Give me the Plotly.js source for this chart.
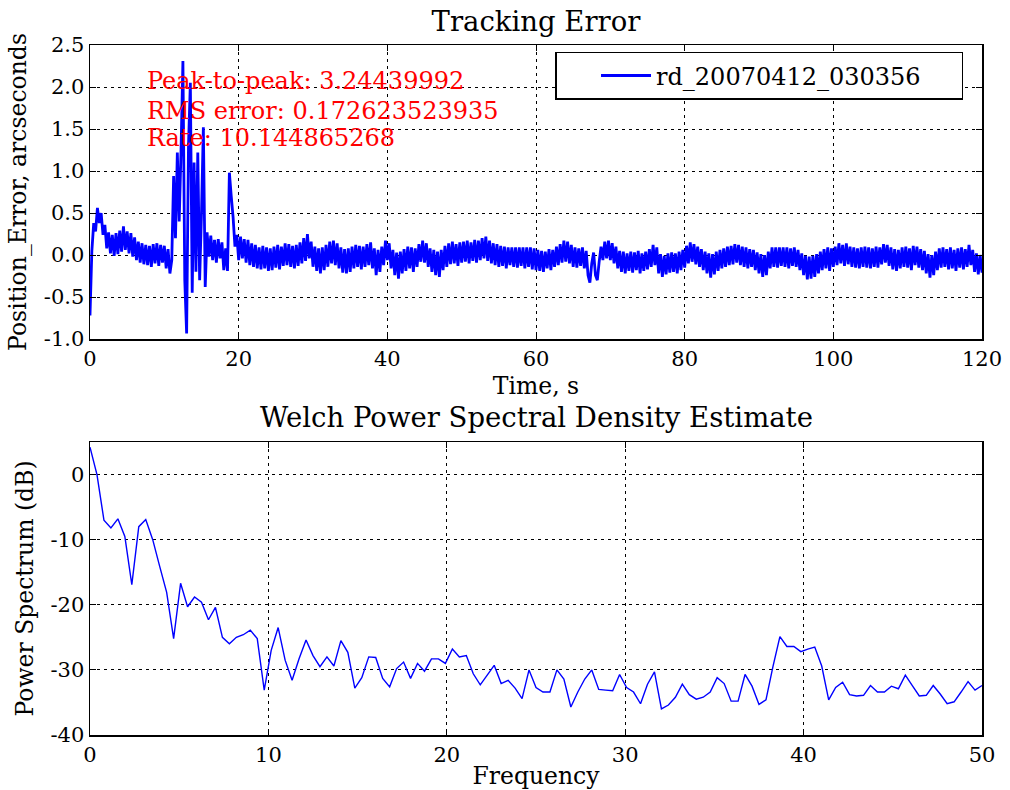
<!DOCTYPE html>
<html>
<head>
<meta charset="utf-8">
<script src="https://cdn.plot.ly/plotly-3.0.1.min.js"></script>
<style>
  html, body { margin: 0; padding: 0; background: #fff; }
  #chart { width: 1010px; height: 790px; }
</style>
</head>
<body>
<div id="chart"></div>
<script>
// Tracking error record, one sample every 0.25 s (arcseconds)
const sampleStep = 0.25;
const positionError = [
  -0.72, 0.05, 0.38, 0.28, 0.56, 0.38, 0.50, 0.24, 0.36, 0.08, 0.27, 0.02, 0.24, -0.01, 0.26, 0.01, 0.29, 0.04, 0.34, 0.06,
  0.28, 0.02, 0.26, -0.02, 0.21, -0.06, 0.16, -0.09, 0.14, -0.11, 0.12, -0.12, 0.11, -0.14, 0.13, -0.10, 0.14, -0.13, 0.12, -0.09,
  0.11, -0.16, 0.07, -0.22, -0.06, 0.94, 0.20, 1.22, 0.40, 1.26, 2.31, -0.30, -0.9344, 1.30, 2.05, -0.45, 1.10, -0.20, 1.22, -0.30,
  0.50, 1.52, -0.38, 0.27, -0.02, 0.23, -0.06, 0.18, -0.09, 0.19, -0.04, 0.15, -0.18, 0.08, -0.19, 0.98, 0.70, 0.45, 0.10, 0.24,
  -0.06, 0.22, -0.04, 0.19, -0.09, 0.18, -0.12, 0.14, -0.14, 0.12, -0.16, 0.09, -0.17, 0.11, -0.16, 0.09, -0.19, 0.08, -0.18, 0.10,
  -0.15, 0.12, -0.17, 0.10, -0.13, 0.14, -0.12, 0.13, -0.14, 0.11, -0.16, 0.12, -0.13, 0.15, -0.10, 0.20, -0.07, 0.25, -0.04, 0.16,
  -0.14, 0.10, -0.19, 0.08, -0.22, 0.09, -0.18, 0.12, -0.14, 0.16, -0.10, 0.17, -0.12, 0.14, -0.16, 0.09, -0.21, 0.07, -0.22, 0.08,
  -0.20, 0.10, -0.16, 0.12, -0.14, 0.11, -0.17, 0.10, -0.14, 0.13, -0.12, 0.15, -0.16, 0.08, -0.24, 0.06, -0.20, 0.10, -0.12, 0.17,
  -0.06, 0.14, -0.16, 0.06, -0.24, 0.03, -0.28, 0.04, -0.22, 0.07, -0.19, 0.10, -0.16, 0.09, -0.20, 0.08, -0.14, 0.13, -0.08, 0.17,
  -0.09, 0.14, -0.14, 0.08, -0.20, 0.06, -0.24, 0.04, -0.26, 0.06, -0.18, 0.11, -0.14, 0.14, -0.11, 0.16, -0.10, 0.13, -0.13, 0.15,
  -0.09, 0.16, -0.08, 0.17, -0.10, 0.15, -0.07, 0.18, -0.09, 0.17, -0.06, 0.20, -0.04, 0.22, -0.07, 0.17, -0.10, 0.14, -0.12, 0.13,
  -0.14, 0.11, -0.13, 0.10, -0.16, 0.09, -0.12, 0.09, -0.14, 0.09, -0.15, 0.09, -0.13, 0.09, -0.16, 0.09, -0.14, 0.09, -0.17, 0.08,
  -0.18, 0.06, -0.19, 0.05, -0.20, 0.04, -0.16, 0.07, -0.18, 0.06, -0.14, 0.10, -0.12, 0.13, -0.09, 0.17, -0.08, 0.16, -0.10, 0.12,
  -0.14, 0.09, -0.15, 0.08, -0.13, 0.09, -0.16, 0.05, -0.24, -0.33, -0.10, 0.03, -0.24, -0.30, -0.08, 0.10, -0.06, 0.16, -0.04, 0.17,
  -0.06, 0.14, -0.10, 0.10, -0.16, 0.05, -0.20, 0.04, -0.22, 0.02, -0.19, 0.04, -0.21, 0.03, -0.18, 0.05, -0.22, 0.02, -0.19, 0.04,
  -0.17, 0.07, -0.14, 0.12, -0.12, 0.09, -0.22, 0.01, -0.26, -0.01, -0.23, 0.02, -0.21, 0.03, -0.20, 0.02, -0.22, 0.04, -0.18, 0.06,
  -0.15, 0.11, -0.10, 0.15, -0.08, 0.13, -0.11, 0.10, -0.14, 0.07, -0.18, 0.04, -0.22, 0.02, -0.27, 0.01, -0.23, 0.04, -0.19, 0.06,
  -0.16, 0.08, -0.14, 0.10, -0.12, 0.11, -0.11, 0.13, -0.09, 0.12, -0.12, 0.10, -0.14, 0.09, -0.16, 0.07, -0.14, 0.06, -0.18, 0.03,
  -0.22, 0.01, -0.26, 0.00, -0.24, 0.04, -0.16, 0.09, -0.14, 0.09, -0.15, 0.09, -0.13, 0.09, -0.14, 0.09, -0.16, 0.08, -0.13, 0.09,
  -0.14, 0.06, -0.18, 0.02, -0.24, -0.01, -0.29, -0.02, -0.28, -0.01, -0.26, 0.01, -0.22, 0.04, -0.18, 0.07, -0.16, 0.09, -0.19, 0.08,
  -0.14, 0.10, -0.12, 0.14, -0.10, 0.12, -0.13, 0.14, -0.11, 0.10, -0.14, 0.09, -0.15, 0.08, -0.16, 0.09, -0.14, 0.10, -0.15, 0.09,
  -0.16, 0.08, -0.14, 0.10, -0.15, 0.09, -0.11, 0.13, -0.09, 0.12, -0.13, 0.09, -0.17, 0.07, -0.19, 0.06, -0.16, 0.09, -0.14, 0.10,
  -0.15, 0.08, -0.18, 0.11, -0.12, 0.10, -0.15, 0.07, -0.18, 0.05, -0.22, 0.01, -0.27, 0.00, -0.24, 0.04, -0.18, 0.08, -0.15, 0.09,
  -0.14, 0.07, -0.17, 0.09, -0.16, 0.06, -0.19, 0.08, -0.15, 0.09, -0.17, 0.07, -0.14, 0.12, -0.12, 0.06, -0.20, 0.02, -0.23, 0.00, -0.21
];

// Welch PSD estimate, bins spaced 100/256 Hz from 0 to 50 Hz (dB)
const freqStep = 100 / 256;
const psdDb = [
  4.2, 0.0, -7.0, -8.2, -6.8, -9.5, -16.9, -8.0, -6.9, -10.0,
  -14.1, -18.1, -25.2, -16.7, -20.3, -18.8, -19.6, -22.3, -20.4, -25.0,
  -26.0, -25.0, -24.6, -23.9, -25.2, -33.1, -27.0, -23.5, -28.5, -31.6,
  -28.3, -25.4, -27.8, -29.5, -28.0, -29.4, -25.5, -27.3, -32.8, -31.2,
  -28.0, -28.1, -31.3, -32.6, -29.8, -28.8, -31.3, -29.0, -30.2, -28.3,
  -28.3, -29.0, -26.8, -28.0, -27.8, -30.6, -32.3, -30.8, -29.3, -32.1,
  -31.6, -32.8, -34.4, -30.0, -32.7, -33.4, -33.4, -30.0, -31.4, -35.7,
  -33.4, -31.4, -30.0, -33.0, -33.1, -33.2, -30.7, -32.7, -33.4, -35.2,
  -32.2, -30.3, -36.0, -35.4, -34.2, -32.2, -33.8, -34.5, -34.2, -33.4,
  -31.2, -32.1, -34.8, -34.8, -30.7, -32.5, -35.3, -34.6, -29.5, -24.9,
  -26.4, -26.4, -27.2, -26.8, -26.5, -29.4, -34.6, -32.7, -31.9, -33.8,
  -34.0, -33.9, -32.4, -33.4, -33.4, -32.5, -32.9, -30.8, -32.4, -34.0,
  -33.9, -32.4, -33.7, -35.2, -34.9, -33.4, -31.8, -33.1, -32.4
];

// Tick positions and labels
const timeTicks = [0, 20, 40, 60, 80, 100, 120];
const errTickVals = [-1, -0.5, 0, 0.5, 1, 1.5, 2, 2.5];
const errTickText = ['-1.0', '-0.5', '0.0', '0.5', '1.0', '1.5', '2.0', '2.5'];
const freqTicks = [0, 10, 20, 30, 40, 50];
const psdTickVals = [-40, -30, -20, -10, 0];
const psdTickText = ['-40', '-30', '-20', '-10', '0'];

const runName = 'rd_20070412_030356';
const statLines = ['Peak-to-peak: 3.24439992', 'RMS error: 0.172623523935', 'Rate: 10.144865268'];
const statY = [2.07, 1.71, 1.39];

const times = positionError.map((_, i) => i * sampleStep);
const freqs = psdDb.map((_, i) => i * freqStep);

const serif = 'DejaVu Serif, serif';

function axisStyle(extra) {
  return Object.assign({
    showline: true, linecolor: '#000', linewidth: 1.5, mirror: 'ticks',
    ticks: 'inside', ticklen: 6, tickwidth: 1, tickcolor: '#000',
    showgrid: true, gridcolor: '#000', gridwidth: 1, griddash: '3px,4px',
    zeroline: false, automargin: false,
    tickfont: { family: serif, size: 21, color: '#000' }
  }, extra);
}

const traces = [
  {
    x: times, y: positionError, type: 'scatter', mode: 'lines',
    name: runName, xaxis: 'x', yaxis: 'y',
    line: { color: '#0000ff', width: 2.8, simplify: false }
  },
  {
    x: freqs, y: psdDb, type: 'scatter', mode: 'lines',
    showlegend: false, xaxis: 'x2', yaxis: 'y2',
    line: { color: '#0000ff', width: 1.4, simplify: false }
  }
];

const annotations = statLines.map((txt, i) => ({
  text: txt, xref: 'x', yref: 'y', x: 7.4, y: statY[i],
  xanchor: 'left', yanchor: 'middle', showarrow: false,
  font: { family: serif, size: 24, color: '#ff0000' }
}));
annotations.push({
  text: 'Welch Power Spectral Density Estimate',
  xref: 'paper', yref: 'paper', x: 0.5, y: 0.4609,
  xanchor: 'center', yanchor: 'middle', showarrow: false,
  font: { family: serif, size: 27.5, color: '#000' }
});

const layout = {
  width: 1010, height: 790,
  paper_bgcolor: '#fff', plot_bgcolor: '#fff',
  margin: { l: 90, r: 28, t: 45, b: 55 },
  title: {
    text: 'Tracking Error', x: 0.5, xref: 'paper',
    y: 1 - 21 / 790, yref: 'container', yanchor: 'middle',
    font: { family: serif, size: 27.5, color: '#000' }
  },
  xaxis: axisStyle({
    domain: [0, 1], anchor: 'y', range: [0, 120], tickvals: timeTicks,
    title: { text: 'Time, s', standoff: 8, font: { family: serif, size: 23.5, color: '#000' } }
  }),
  yaxis: axisStyle({
    domain: [0.5739, 1], anchor: 'x', range: [-1, 2.5],
    tickvals: errTickVals, ticktext: errTickText,
    title: { text: 'Position_Error, arcseconds', standoff: 10, font: { family: serif, size: 23.5, color: '#000' } }
  }),
  xaxis2: axisStyle({
    domain: [0, 1], anchor: 'y2', range: [0, 50], tickvals: freqTicks,
    title: { text: 'Frequency', standoff: 4, font: { family: serif, size: 23.5, color: '#000' } }
  }),
  yaxis2: axisStyle({
    domain: [0, 0.4246], anchor: 'x2', range: [-40, 5],
    tickvals: psdTickVals, ticktext: psdTickText,
    title: { text: 'Power Spectrum (dB)', standoff: 10, font: { family: serif, size: 23.5, color: '#000' } }
  }),
  showlegend: true,
  legend: {
    orientation: 'h', x: 0.979, xanchor: 'right', y: 0.99, yanchor: 'top',
    title: { text: '\u00a0\u00a0\u00a0\u00a0', side: 'left', font: { family: serif, size: 23 } },
    entrywidth: 300, entrywidthmode: 'pixels', itemwidth: 50,
    bgcolor: '#fff', bordercolor: '#000', borderwidth: 1.5,
    font: { family: serif, size: 24, color: '#000' }
  },
  annotations: annotations
};

Plotly.newPlot('chart', traces, layout, { staticPlot: true, displayModeBar: false });
</script>
</body>
</html>
